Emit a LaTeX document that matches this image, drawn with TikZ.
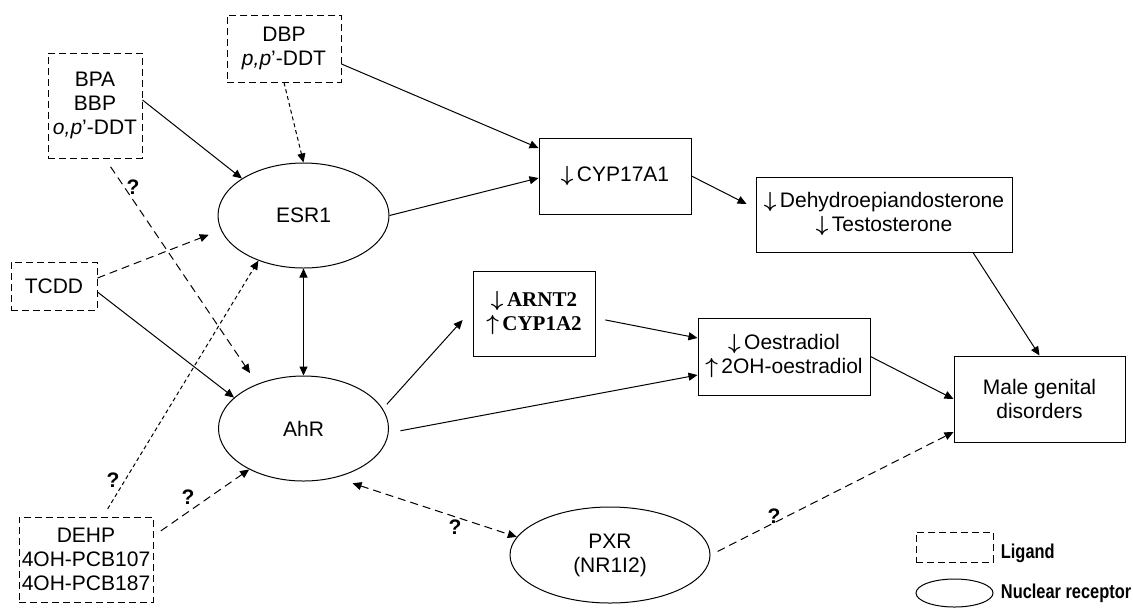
\documentclass[tikz,border=0pt]{standalone}
\usepackage{fontspec}
\usepackage{bm}
\setmainfont{Liberation Sans}
\newfontfamily\serifbox{Liberation Serif}
\newfontfamily\narrowbold[FakeStretch=0.82]{Liberation Sans}
\usetikzlibrary{positioning, arrows.meta, shapes.geometric}
\newcommand{\dn}{$\bm{\downarrow}$\,}
\newcommand{\up}{$\bm{\uparrow}$\,}

\begin{document}
\begin{tikzpicture}[
    x=0.5pt, y=-0.5pt,
    >={Triangle[length=4.5pt,width=4pt]},
    every node/.style={font=\fontsize{10.5}{12}\selectfont, align=center, inner sep=0pt},
    ligand/.style={draw, line width=0.5pt, dash pattern=on 3.5pt off 2pt},
    effect/.style={draw, line width=0.5pt, rectangle},
    receptor/.style={draw, line width=0.5pt, ellipse},
    qmark/.style={font=\fontsize{10.5}{12}\selectfont\bfseries},
    keytext/.style={font=\narrowbold\bfseries\fontsize{10}{12}\selectfont},
    link/.style={->, line width=0.5pt},
    maybe/.style={->, line width=0.5pt, dash pattern=on 4pt off 2.5pt},
    faint/.style={->, line width=0.5pt, dash pattern=on 2pt off 1.5pt}
]
\useasboundingbox (0,0) rectangle (1133,607);

%% ── Ligands ──────────────────────────────────────────────────────────────────
\node[ligand, minimum width=57pt, minimum height=33.5pt] (dbp) at (284,48.5)
    {DBP\\\textit{p,p}’-DDT};
\node[ligand, minimum width=47pt, minimum height=52.5pt] (bpa) at (95,105.5)
    {BPA\\BBP\\\textit{o,p}’-DDT};
\node[ligand, minimum width=43pt, minimum height=24pt] (tcdd) at (54,286) {TCDD};
\node[ligand, minimum width=67pt, minimum height=42.5pt] (dehp) at (86,559.5)
    {DEHP\\4OH-PCB107\\4OH-PCB187};

%% ── Nuclear receptors ────────────────────────────────────────────────────────
\node[receptor, minimum width=85.5pt, minimum height=52.5pt] (esr) at (303.5,215.5) {ESR1};
\node[receptor, minimum width=85pt, minimum height=52.5pt, below=53.5pt of esr] (ahr) {AhR};
\node[receptor, minimum width=100pt, minimum height=48pt] (pxr) at (610,555)
    {PXR\\(NR1I2)};

%% ── Effects ──────────────────────────────────────────────────────────────────
\node[effect, minimum width=76pt, minimum height=38pt] (cyp) at (615,176) {\dn CYP17A1};
\node[effect, minimum width=128pt, minimum height=37.5pt] (dhea) at (884,214.5)
    {\dn Dehydroepiandosterone\\\dn Testosterone};
\node[effect, minimum width=61pt, minimum height=42.5pt,
      font={\serifbox\bfseries\fontsize{10.5}{12}\selectfont}] (arnt) at (534,313.5)
    {\dn ARNT2\\\up CYP1A2};
\node[effect, minimum width=86pt, minimum height=38.5pt] (oest) at (784,356.5)
    {\dn Oestradiol\\\up 2OH-oestradiol};
\node[effect, minimum width=85.5pt, minimum height=43pt] (male) at (1039.5,399)
    {Male genital\\disorders};

%% ── Ligand → receptor ────────────────────────────────────────────────────────
\draw[link] ([yshift=2.75pt]bpa.east) -- (esr.149);
\draw[faint] (dbp.south) -- (esr.north);
\draw[maybe, shorten >=6.5pt] ([yshift=4pt]tcdd.east) -- (esr.190);
\draw[link] ([yshift=-3pt]tcdd.east) -- (ahr.156);
\draw[maybe, shorten <=5pt, shorten >=6.5pt] ([xshift=5pt]bpa.south) -- (ahr.136);
\node[qmark] (q1) at (133,187) {?};
\draw[faint, shorten <=4.5pt] ([xshift=8.5pt]dehp.north) -- (esr.225);
\node[qmark] (q2) at (113,480) {?};
\draw[maybe, shorten <=4.5pt] ([yshift=11.75pt]dehp.east) -- (ahr.217);
\node[qmark] (q3) at (188,497) {?};

%% ── Receptor ↔ receptor ──────────────────────────────────────────────────────
\draw[link, <->] (esr) -- (ahr);
\draw[maybe, <->, shorten <=9pt] (ahr.-57) -- (pxr.169);
\node[qmark] (q4) at (455,527) {?};

%% ── Downstream effects ───────────────────────────────────────────────────────
\draw[link] ([yshift=-7.75pt]dbp.east) -- ([yshift=14pt]cyp.west);
\draw[link] (esr.east) -- ([yshift=-1pt]cyp.west);
\draw[link, shorten >=5pt] (cyp.east) -- ([yshift=3pt]dhea.west);
\draw[link, shorten <=3pt, shorten >=7.4pt] (ahr.14) -- ([yshift=2.25pt]arnt.west);
\draw[link, shorten <=5pt] ([yshift=-2.25pt]arnt.east) -- ([yshift=9.25pt]oest.west);
\draw[link, shorten <=6pt] (ahr.-3) -- ([yshift=-9.25pt]oest.west);
\draw[link] ([xshift=44.5pt]dhea.south) -- (male.north);
\draw[link] (oest.east) -- (male.west);
\draw[maybe, shorten <=4pt] (pxr.east) -- ([yshift=-16.5pt]male.west);
\node[qmark] (q5) at (774,516) {?};

%% ── Legend ───────────────────────────────────────────────────────────────────
\node[ligand, minimum width=38.5pt, minimum height=15pt] (ligkey) at (954.5,547) {};
\node[keytext, right=3.5pt of ligkey, yshift=-3pt] (ligtxt) {Ligand};
\node[receptor, minimum width=38.5pt, minimum height=14pt] (reckey) at (954.5,593) {};
\node[keytext, right=3.5pt of reckey] (rectxt) {Nuclear receptor};

\end{tikzpicture}
\end{document}
